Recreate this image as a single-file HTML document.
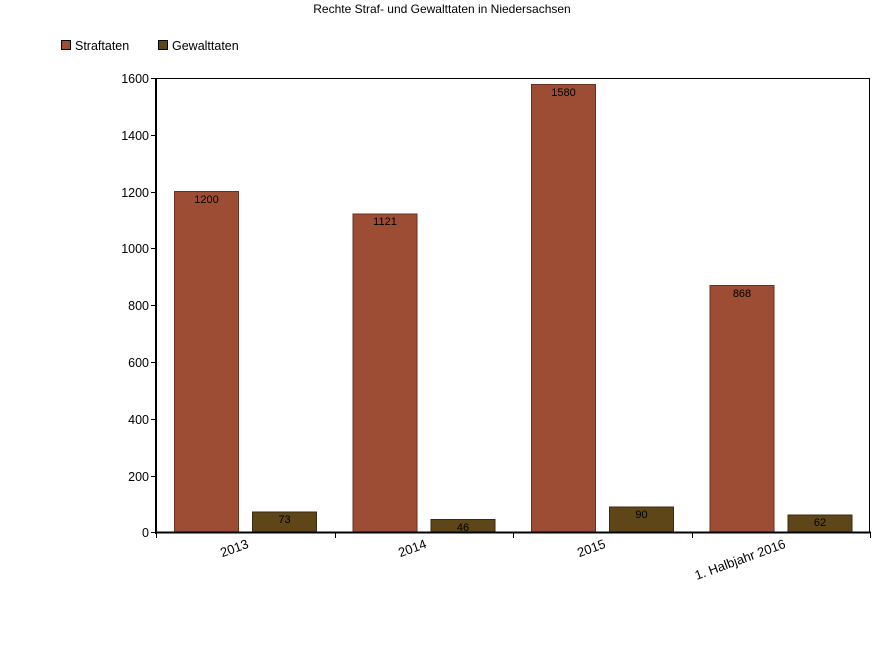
<!DOCTYPE html>
<html><head><meta charset="utf-8"><style>body{margin:0;background:#fff}</style></head><body>
<svg width="884" height="650" xmlns="http://www.w3.org/2000/svg" font-family="Liberation Sans, Arial, sans-serif">
<rect width="884" height="650" fill="#fff"/>
<text x="442" y="13" font-size="12" text-anchor="middle" fill="#000">Rechte Straf- und Gewalttaten in Niedersachsen</text>
<rect x="61.5" y="40.5" width="9" height="9" fill="#9c4d33" stroke="#000"/>
<text x="75" y="50" font-size="12.5">Straftaten</text>
<rect x="158.5" y="40.5" width="9" height="9" fill="#5e4619" stroke="#000"/>
<text x="172" y="50" font-size="12.5">Gewalttaten</text>
<rect x="156.5" y="78.5" width="713" height="454" fill="none" stroke="#000" stroke-width="1"/>
<g fill="#9c4d33" stroke="#6a3020" stroke-width="1">
<rect x="174.5" y="191.5" width="64" height="341"/>
<rect x="353" y="214" width="64" height="318.5"/>
<rect x="531.5" y="84.5" width="64" height="448"/>
<rect x="710" y="285.5" width="64" height="247"/>
</g>
<g fill="#5e4619" stroke="#3a2a0e" stroke-width="1">
<rect x="252.5" y="512" width="64" height="20.5"/>
<rect x="431" y="519.5" width="64" height="13"/>
<rect x="609.5" y="507" width="64" height="25.5"/>
<rect x="788" y="515" width="64" height="17.5"/>
</g>
<g font-size="11" text-anchor="middle" fill="#000">
<text x="206.5" y="203">1200</text><text x="385" y="225">1121</text><text x="563.5" y="96">1580</text><text x="742" y="297">868</text>
<text x="284.5" y="523">73</text><text x="463" y="531">46</text><text x="641.5" y="518">90</text><text x="820" y="526">62</text>
</g>
<line x1="156" y1="532.5" x2="871" y2="532.5" stroke="#000" stroke-width="2"/>
<line x1="156" y1="78" x2="156" y2="534" stroke="#000" stroke-width="2"/>
<g stroke="#000" stroke-width="1">
<line x1="151" y1="78.5" x2="156" y2="78.5"/><line x1="151" y1="135.5" x2="156" y2="135.5"/><line x1="151" y1="192.5" x2="156" y2="192.5"/><line x1="151" y1="248.5" x2="156" y2="248.5"/><line x1="151" y1="305.5" x2="156" y2="305.5"/><line x1="151" y1="362.5" x2="156" y2="362.5"/><line x1="151" y1="419.5" x2="156" y2="419.5"/><line x1="151" y1="476.5" x2="156" y2="476.5"/><line x1="151" y1="532.5" x2="156" y2="532.5"/>
<line x1="156.5" y1="532" x2="156.5" y2="538"/><line x1="335.5" y1="532" x2="335.5" y2="538"/><line x1="513.5" y1="532" x2="513.5" y2="538"/><line x1="692.5" y1="532" x2="692.5" y2="538"/><line x1="870.5" y1="532" x2="870.5" y2="538"/>
</g>
<g font-size="12.5" text-anchor="end" fill="#000">
<text x="149" y="83">1600</text><text x="149" y="140">1400</text><text x="149" y="197">1200</text><text x="149" y="253">1000</text><text x="149" y="310">800</text><text x="149" y="367">600</text><text x="149" y="424">400</text><text x="149" y="481">200</text><text x="149" y="537">0</text>
</g>
<g font-size="13" text-anchor="end" fill="#000">
<text transform="translate(246,538) rotate(-20)" x="0" y="10">2013</text>
<text transform="translate(424,538) rotate(-20)" x="0" y="10">2014</text>
<text transform="translate(603,538) rotate(-20)" x="0" y="10">2015</text>
<text transform="translate(783,538) rotate(-20)" x="0" y="10">1. Halbjahr 2016</text>
</g>
</svg>
</body></html>
